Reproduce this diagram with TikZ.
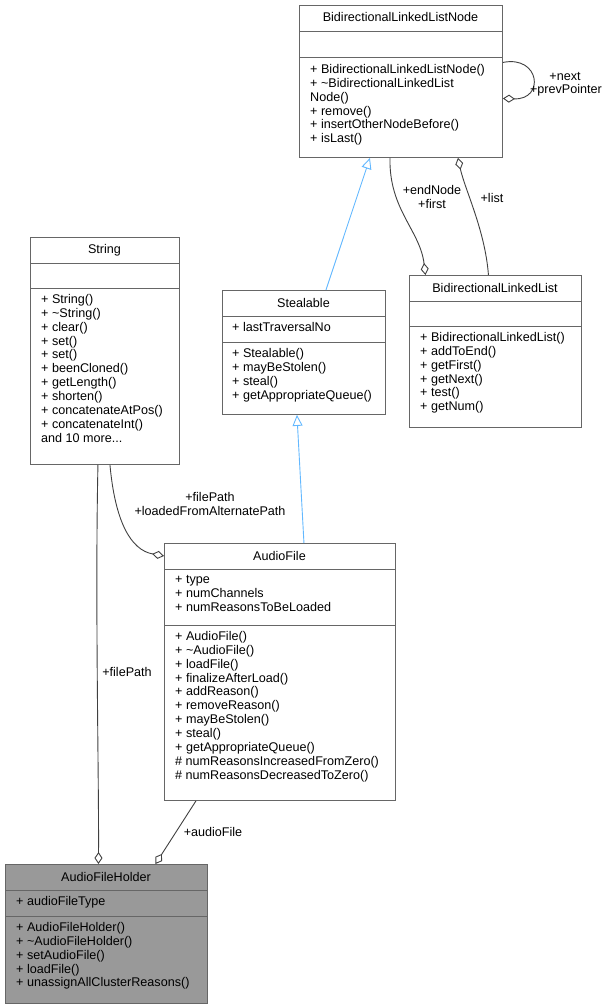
\documentclass[tikz,border=0pt]{standalone}
\usepackage{fontspec}
\setmainfont{Liberation Sans}
\usetikzlibrary{arrows.meta,calc}
\definecolor{inhblue}{RGB}{99,184,255}
\definecolor{edgegray}{RGB}{64,64,64}
\definecolor{boxgray}{RGB}{102,102,102}
\definecolor{holdfill}{RGB}{153,153,153}
\tikzset{
  cls/.style={draw=boxgray, line width=0.9pt, rectangle, anchor=north west, inner sep=0pt},
  txt/.style={inner sep=0pt, font=\fontsize{12.6}{13.9}\selectfont, align=left},
  assoc/.style={draw=edgegray, line width=0.9pt, -{Diamond[open,length=12,width=8]}},
  inh/.style={draw=inhblue, line width=0.9pt, -{Triangle[open,length=11,width=10]}},
  lbl/.style={txt, align=center}
}
\begin{document}
\begin{tikzpicture}[x=1pt,y=-1pt]
    \useasboundingbox (0,0) rectangle (606,1008);

    % class boxes
    \node[cls, minimum width=203, minimum height=152] (bllnode) at (299,5) {};
    \draw[boxgray, line width=0.9pt] (299,31) -- (502,31) (299,57) -- (502,57);
    \node[txt, anchor=base] (bllnodeT) at (400.5,22) {BidirectionalLinkedListNode};
    \node[txt, anchor=north west] (bllnodeM) at (310,64) {+ BidirectionalLinkedListNode()\\+ \textasciitilde BidirectionalLinkedList\\Node()\\+ remove()\\+ insertOtherNodeBefore()\\+ isLast()};

    \node[cls, minimum width=149, minimum height=227] (string) at (30,237) {};
    \draw[boxgray, line width=0.9pt] (30,263) -- (179,263) (30,288) -- (179,288);
    \node[txt, anchor=base] (stringT) at (104.5,254) {String};
    \node[txt, anchor=north west] (stringM) at (41,294) {+ String()\\+ \textasciitilde String()\\+ clear()\\+ set()\\+ set()\\+ beenCloned()\\+ getLength()\\+ shorten()\\+ concatenateAtPos()\\+ concatenateInt()\\and 10 more...};

    \node[cls, minimum width=163, minimum height=124] (stealable) at (222,290) {};
    \draw[boxgray, line width=0.9pt] (222,316) -- (385,316) (222,342) -- (385,342);
    \node[txt, anchor=base] (stealableT) at (303.5,307) {Stealable};
    \node[txt, anchor=north west] (stealableA) at (232,322) {+ lastTraversalNo};
    \node[txt, anchor=north west] (stealableM) at (232,348) {+ Stealable()\\+ mayBeStolen()\\+ steal()\\+ getAppropriateQueue()};

    \node[cls, minimum width=172, minimum height=152] (bll) at (409,275) {};
    \draw[boxgray, line width=0.9pt] (409,301) -- (581,301) (409,326) -- (581,326);
    \node[txt, anchor=base] (bllT) at (495,292) {BidirectionalLinkedList};
    \node[txt, anchor=north west] (bllM) at (420,332) {+ BidirectionalLinkedList()\\+ addToEnd()\\+ getFirst()\\+ getNext()\\+ test()\\+ getNum()};

    \node[cls, minimum width=231, minimum height=257] (audiofile) at (164,543) {};
    \draw[boxgray, line width=0.9pt] (164,569) -- (395,569) (164,625) -- (395,625);
    \node[txt, anchor=base] (audiofileT) at (279.5,560) {AudioFile};
    \node[txt, anchor=north west] (audiofileA) at (175,575) {+ type\\+ numChannels\\+ numReasonsToBeLoaded};
    \node[txt, anchor=north west] (audiofileM) at (175,631) {+ AudioFile()\\+ \textasciitilde AudioFile()\\+ loadFile()\\+ finalizeAfterLoad()\\+ addReason()\\+ removeReason()\\+ mayBeStolen()\\+ steal()\\+ getAppropriateQueue()\\\# numReasonsIncreasedFromZero()\\\# numReasonsDecreasedToZero()};

    \node[cls, fill=holdfill, minimum width=202, minimum height=139] (holder) at (5,864) {};
    \draw[boxgray, line width=0.9pt] (5,890) -- (207,890) (5,916) -- (207,916);
    \node[txt, anchor=base] (holderT) at (106,881) {AudioFileHolder};
    \node[txt, anchor=north west] (holderA) at (16,896) {+ audioFileType};
    \node[txt, anchor=north west] (holderM) at (16,922) {+ AudioFileHolder()\\+ \textasciitilde AudioFileHolder()\\+ setAudioFile()\\+ loadFile()\\+ unassignAllClusterReasons()};

    % inheritance
    \draw[inh] ($(stealable.north)+(22,0)$) -- ($(bllnode.south)+(-31,0)$);
    \draw[inh] ($(audiofile.north)+(24,0)$) -- ($(stealable.south)+(-7,0)$);

    % associations
    \draw[assoc] ($(bllnode.east)+(0,-19)$) .. controls (540,55) and (545,100) .. ($(bllnode.east)+(0,17)$);
    \node[lbl] (nextL) at (565,76) {+next};
    \node[lbl] (prevL) at (566,90) {+prevPointer};
    \draw[assoc] ($(bllnode.south)+(-11,0)$) .. controls (389,210) and (420,230) .. ($(bll.north)+(-70,0)$);
    \node[lbl] (endL) at (432,197) {+endNode\\+first};
    \draw[assoc] ($(bll.north)+(-7,0)$) .. controls (485,230) and (465,190) .. ($(bllnode.south)+(57,0)$);
    \node[lbl] (listL) at (492,198) {+list};
    \draw[assoc] ($(string.south)+(5,0)$) .. controls (115,520) and (130,550) .. ($(audiofile.west)+(0,-116)$);
    \node[lbl] (fpL) at (210,504) {+filePath\\+loadedFromAlternatePath};
    \draw[assoc] ($(string.south)+(-7,0)$) .. controls (95,600) and (99,780) .. ($(holder.north)+(-8,0)$);
    \node[lbl] (fp2L) at (127,672) {+filePath};
    \draw[assoc] ($(audiofile.south)+(-84,0)$) -- ($(holder.north)+(49,0)$);
    \node[lbl] (afL) at (213,832) {+audioFile};
\end{tikzpicture}
\end{document}
